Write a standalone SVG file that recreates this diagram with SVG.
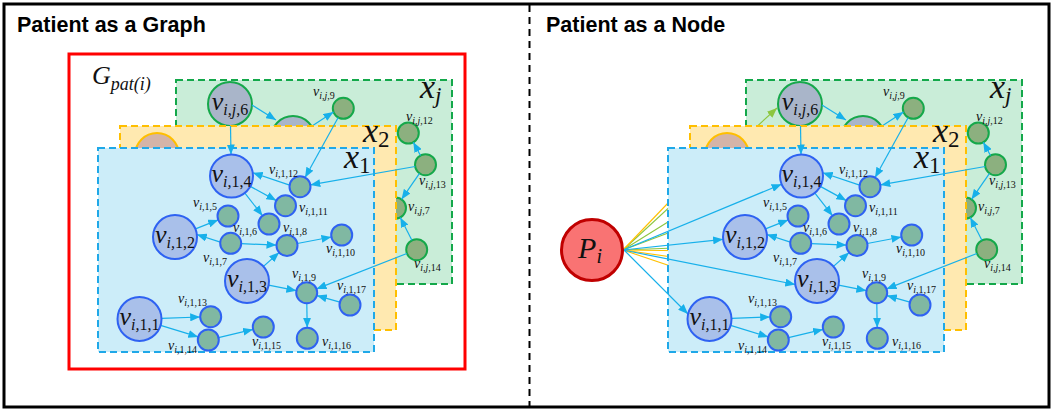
<svg xmlns="http://www.w3.org/2000/svg" width="1052" height="411" viewBox="0 0 1052 411">
  <style>
    .title { font-family: "Liberation Sans", Arial, sans-serif; font-weight: bold; font-size: 21.5px; fill: #000; }
    .m { font-family: "Liberation Serif", "DejaVu Serif", serif; fill: #111; font-style: italic; }
    .sm { font-size: 14px; }
    .sm tspan { font-size: 10px; }
    .bg { font-size: 26px; text-anchor: middle; }
    .bg tspan { font-size: 16px; }
    .lx { font-size: 34px; }
    .lx tspan { font-size: 23px; }
    .gp { font-size: 26px; }
    .gp tspan { font-size: 18px; }
    .pi { font-size: 30px; text-anchor: middle; }
    .pi tspan { font-size: 20px; }
    tspan.r { font-style: normal; }
    .lay-j { fill: #c9edd8; stroke: #13a84a; stroke-width: 2; stroke-dasharray: 7 4; }
    .lay-2 { fill: #ffe9b0; stroke: #ffbf00; stroke-width: 2; stroke-dasharray: 7 4; }
    .lay-1 { fill: #ccedf9; stroke: #1fa8e8; stroke-width: 2; stroke-dasharray: 7 4; }
    .nb { fill: #a9c0ea; stroke: #2e62f2; stroke-width: 2; }
    .ns { fill: #80b8a2; stroke: #2e62f2; stroke-width: 2; }
    .gb { fill: #a9b5c9; stroke: #15a84a; stroke-width: 2; }
    .gs { fill: #8cb07f; stroke: #15a84a; stroke-width: 2; }
    .yb { fill: #d4b4a8; stroke: #ffbf00; stroke-width: 2; }
    .e { stroke: #17b0ea; stroke-width: 1.2; fill: none; marker-end: url(#ah); }
    .fy { stroke: #ffc000; stroke-width: 1.1; fill: none; }
    .fg { stroke: #8cc63f; stroke-width: 1.1; fill: none; }
    .fga { stroke: #8cc63f; stroke-width: 1.1; fill: none; marker-end: url(#ahg); }
  </style>
  <defs>
    <marker id="ah" viewBox="0 0 10 8" refX="10" refY="4" markerWidth="10" markerHeight="8" markerUnits="userSpaceOnUse" orient="auto">
      <path d="M0,0 L10,4 L0,8 z" fill="#17b0ea"/>
    </marker>
    <marker id="ahg" viewBox="0 0 10 8" refX="10" refY="4" markerWidth="10" markerHeight="8" markerUnits="userSpaceOnUse" orient="auto">
      <path d="M0,0 L10,4 L0,8 z" fill="#8cc63f"/>
    </marker>
  </defs>

  <!-- frame and divider -->
  <rect x="4" y="4" width="1045" height="403" fill="#fff" stroke="#000" stroke-width="3"/>
  <line x1="529.5" y1="5" x2="529.5" y2="406" stroke="#000" stroke-width="2" stroke-dasharray="7 5"/>
  <text class="title" x="17" y="32">Patient as a Graph</text>
  <text class="title" x="546" y="32">Patient as a Node</text>

  <!-- ===================== left: patient as a graph ===================== -->
  <rect id="gpat-frame" x="69" y="54" width="396" height="315" fill="none" stroke="#ff0000" stroke-width="3"/>
  <text class="m gp" x="92" y="84">G<tspan dy="6">pat(i)</tspan></text>

  <!-- layer x_j -->
  <rect class="lay-j" x="176" y="80" width="276" height="204"/>
  <g id="L-vj6"><circle class="gb" cx="230" cy="104" r="22"/><text class="m bg" x="230" y="110">v<tspan dy="5">i,j,</tspan><tspan class="r">6</tspan></text></g>
  <g id="L-vjh"><circle class="gb" cx="293" cy="138" r="22"/></g>
  <g id="L-vj9"><circle class="gs" cx="343.3" cy="108.3" r="10.5"/><text class="m sm" x="313" y="96">v<tspan dy="3">i,j,</tspan><tspan class="r">9</tspan></text></g>
  <g id="L-vj12"><circle class="gs" cx="408.3" cy="133" r="10.5"/><text class="m sm" x="406" y="121">v<tspan dy="3">i,j,</tspan><tspan class="r">12</tspan></text></g>
  <g id="L-vj13"><circle class="gs" cx="425.5" cy="164.7" r="10.5"/><text class="m sm" x="419" y="185">v<tspan dy="3">i,j,</tspan><tspan class="r">13</tspan></text></g>
  <g id="L-vj7"><circle class="gs" cx="395.5" cy="208" r="10.5"/><text class="m sm" x="408" y="211">v<tspan dy="3">i,j,</tspan><tspan class="r">7</tspan></text></g>
  <g id="L-vj14"><circle class="gs" cx="416.7" cy="249.7" r="10.5"/><text class="m sm" x="414" y="268">v<tspan dy="3">i,j,</tspan><tspan class="r">14</tspan></text></g>
  <g id="L-edges-j">
    <line class="e" x1="252" y1="105" x2="276" y2="120"/>
    <line class="e" x1="312" y1="126" x2="333.5" y2="112"/>
    <line class="e" x1="420.5" y1="155.5" x2="413.3" y2="142.2"/>
    <line class="e" x1="419.5" y1="173.3" x2="401.5" y2="199.4"/>
    <line class="e" x1="411.9" y1="240.3" x2="400.3" y2="217.4"/>
  </g>
  <text class="m lx" x="420" y="98">x<tspan dy="5">j</tspan></text>

  <!-- layer x_2 -->
  <rect class="lay-2" x="120" y="126" width="276" height="204"/>
  <g id="L-v2a"><circle class="yb" cx="157" cy="155" r="22"/></g>
  <text class="m lx" x="363" y="142">x<tspan class="r" dy="5">2</tspan></text>

  <!-- layer x_1 -->
  <rect class="lay-1" x="98" y="148" width="276" height="204"/>
  <text class="m lx" x="344" y="168">x<tspan class="r" dy="5">1</tspan></text>
  <g id="L-edges-1">
    <line class="e" x1="230.5" y1="126" x2="231" y2="154.5"/>
    <line class="e" x1="338.2" y1="117.5" x2="305.1" y2="177.5"/>
    <line class="e" x1="415.2" y1="166.5" x2="310.3" y2="184.9"/>
    <line class="e" x1="406.9" y1="253.5" x2="316.5" y2="288.9"/>
    <line class="e" x1="289.6" y1="185.1" x2="252.7" y2="172.7"/>
    <line class="e" x1="250.3" y1="186.4" x2="276.3" y2="200.6"/>
    <line class="e" x1="244.7" y1="192.9" x2="262.5" y2="215.7"/>
    <line class="e" x1="195.5" y1="228.9" x2="218.2" y2="219.9"/>
    <line class="e" x1="220.3" y1="242.1" x2="196.8" y2="234.5"/>
    <line class="e" x1="241.2" y1="243.7" x2="276.5" y2="245.1"/>
    <line class="e" x1="297.3" y1="243.5" x2="331.4" y2="237"/>
    <line class="e" x1="263.5" y1="266.4" x2="279.1" y2="252.5"/>
    <line class="e" x1="268.6" y1="285.2" x2="296.4" y2="290.7"/>
    <line class="e" x1="339.9" y1="302.1" x2="316.8" y2="295.6"/>
    <line class="e" x1="306.8" y1="303.2" x2="307.2" y2="327.8"/>
    <line class="e" x1="161.5" y1="318.3" x2="200.2" y2="317"/>
    <line class="e" x1="160.6" y1="325.4" x2="198.3" y2="336.9"/>
    <line class="e" x1="218.5" y1="337.6" x2="253.1" y2="329.4"/>
  </g>
  <g id="L-v14"><circle class="nb" cx="231.5" cy="176" r="21.5"/><text class="m bg" x="231.5" y="182">v<tspan dy="5">i,</tspan><tspan class="r">1,4</tspan></text></g>
  <g id="L-v12"><circle class="nb" cx="175" cy="237" r="22"/><text class="m bg" x="175" y="243">v<tspan dy="5">i,</tspan><tspan class="r">1,2</tspan></text></g>
  <g id="L-v13"><circle class="nb" cx="247" cy="281" r="22"/><text class="m bg" x="247" y="287">v<tspan dy="5">i,</tspan><tspan class="r">1,3</tspan></text></g>
  <g id="L-v11"><circle class="nb" cx="139.5" cy="319" r="22"/><text class="m bg" x="139.5" y="325">v<tspan dy="5">i,</tspan><tspan class="r">1,1</tspan></text></g>
  <g id="L-v15"><circle class="ns" cx="228" cy="216" r="10.5"/><text class="m sm" x="193" y="207">v<tspan dy="3">i,</tspan><tspan class="r">1,5</tspan></text></g>
  <g id="L-v16"><circle class="ns" cx="269" cy="224" r="10.5"/><text class="m sm" x="233" y="232">v<tspan dy="3">i,</tspan><tspan class="r">1,6</tspan></text></g>
  <g id="L-v17"><circle class="ns" cx="230.7" cy="243.3" r="10.5"/><text class="m sm" x="203" y="262">v<tspan dy="3">i,</tspan><tspan class="r">1,7</tspan></text></g>
  <g id="L-v18"><circle class="ns" cx="287" cy="245.5" r="10.5"/><text class="m sm" x="283" y="232">v<tspan dy="3">i,</tspan><tspan class="r">1,8</tspan></text></g>
  <g id="L-v19"><circle class="ns" cx="306.7" cy="292.7" r="10.5"/><text class="m sm" x="292" y="278">v<tspan dy="3">i,</tspan><tspan class="r">1,9</tspan></text></g>
  <g id="L-v110"><circle class="ns" cx="341.7" cy="235" r="10.5"/><text class="m sm" x="326" y="253">v<tspan dy="3">i,</tspan><tspan class="r">1,10</tspan></text></g>
  <g id="L-v111"><circle class="ns" cx="285.5" cy="205.7" r="10.5"/><text class="m sm" x="299" y="212">v<tspan dy="3">i,</tspan><tspan class="r">1,11</tspan></text></g>
  <g id="L-v112"><circle class="ns" cx="300" cy="186.7" r="10.5"/><text class="m sm" x="269" y="174">v<tspan dy="3">i,</tspan><tspan class="r">1,12</tspan></text></g>
  <g id="L-v113"><circle class="ns" cx="210.7" cy="316.7" r="10.5"/><text class="m sm" x="178" y="303">v<tspan dy="3">i,</tspan><tspan class="r">1,13</tspan></text></g>
  <g id="L-v114"><circle class="ns" cx="208.3" cy="340" r="10.5"/><text class="m sm" x="168" y="350">v<tspan dy="3">i,</tspan><tspan class="r">1,14</tspan></text></g>
  <g id="L-v115"><circle class="ns" cx="263.3" cy="327" r="10.5"/><text class="m sm" x="252" y="346">v<tspan dy="3">i,</tspan><tspan class="r">1,15</tspan></text></g>
  <g id="L-v116"><circle class="ns" cx="307.3" cy="338.3" r="10.5"/><text class="m sm" x="322" y="346">v<tspan dy="3">i,</tspan><tspan class="r">1,16</tspan></text></g>
  <g id="L-v117"><circle class="ns" cx="350" cy="305" r="10.5"/><text class="m sm" x="337" y="290">v<tspan dy="3">i,</tspan><tspan class="r">1,17</tspan></text></g>

  <!-- ===================== right: patient as a node ===================== -->
  <!-- layer x_j -->
  <rect class="lay-j" x="746" y="80" width="276" height="204"/>
  <g id="R-vj6"><circle class="gb" cx="800" cy="104" r="22"/><text class="m bg" x="800" y="110">v<tspan dy="5">i,j,</tspan><tspan class="r">6</tspan></text></g>
  <g id="R-vjh"><circle class="gb" cx="863" cy="138" r="22"/></g>
  <g id="R-vj9"><circle class="gs" cx="913.3" cy="108.3" r="10.5"/><text class="m sm" x="883" y="96">v<tspan dy="3">i,j,</tspan><tspan class="r">9</tspan></text></g>
  <g id="R-vj12"><circle class="gs" cx="978.3" cy="133" r="10.5"/><text class="m sm" x="976" y="121">v<tspan dy="3">i,j,</tspan><tspan class="r">12</tspan></text></g>
  <g id="R-vj13"><circle class="gs" cx="995.5" cy="164.7" r="10.5"/><text class="m sm" x="989" y="185">v<tspan dy="3">i,j,</tspan><tspan class="r">13</tspan></text></g>
  <g id="R-vj7"><circle class="gs" cx="965.5" cy="208" r="10.5"/><text class="m sm" x="978" y="211">v<tspan dy="3">i,j,</tspan><tspan class="r">7</tspan></text></g>
  <g id="R-vj14"><circle class="gs" cx="986.7" cy="249.7" r="10.5"/><text class="m sm" x="984" y="268">v<tspan dy="3">i,j,</tspan><tspan class="r">14</tspan></text></g>
  <g id="R-edges-j">
    <line class="e" x1="822" y1="105" x2="846" y2="120"/>
    <line class="e" x1="882" y1="126" x2="903.5" y2="112"/>
    <line class="e" x1="990.5" y1="155.5" x2="983.3" y2="142.2"/>
    <line class="e" x1="989.5" y1="173.3" x2="971.5" y2="199.4"/>
    <line class="e" x1="981.9" y1="240.3" x2="970.3" y2="217.4"/>
  </g>
  <text class="m lx" x="990" y="98">x<tspan dy="5">j</tspan></text>
  <!-- patient links into layer x_j -->
  <g id="R-links-j">
    <line class="fga" x1="623" y1="250" x2="777" y2="108"/>
    <line class="fg" x1="623" y1="250" x2="700" y2="202"/>
    <line class="fg" x1="623" y1="250" x2="700" y2="221"/>
    <line class="fg" x1="623" y1="250" x2="700" y2="247"/>
  </g>

  <!-- layer x_2 -->
  <rect class="lay-2" x="690" y="126" width="276" height="204"/>
  <g id="R-v2a"><circle class="yb" cx="727" cy="155" r="22"/></g>
  <text class="m lx" x="933" y="142">x<tspan class="r" dy="5">2</tspan></text>
  <!-- patient links into layer x_2 -->
  <g id="R-links-2">
    <line class="fy" x1="623" y1="250" x2="715" y2="154"/>
    <line class="fy" x1="623" y1="250" x2="700" y2="251"/>
    <line class="fy" x1="623" y1="250" x2="700" y2="261"/>
    <line class="fy" x1="623" y1="250" x2="700" y2="276"/>
  </g>

  <!-- layer x_1 -->
  <rect class="lay-1" x="668" y="148" width="276" height="204"/>
  <text class="m lx" x="914" y="168">x<tspan class="r" dy="5">1</tspan></text>
  <g id="R-edges-1">
    <line class="e" x1="800.5" y1="126" x2="801" y2="154.5"/>
    <line class="e" x1="908.2" y1="117.5" x2="875.1" y2="177.5"/>
    <line class="e" x1="985.2" y1="166.5" x2="880.3" y2="184.9"/>
    <line class="e" x1="976.9" y1="253.5" x2="886.5" y2="288.9"/>
    <line class="e" x1="859.6" y1="185.1" x2="822.7" y2="172.7"/>
    <line class="e" x1="820.3" y1="186.4" x2="846.3" y2="200.6"/>
    <line class="e" x1="814.7" y1="192.9" x2="832.5" y2="215.7"/>
    <line class="e" x1="765.5" y1="228.9" x2="788.2" y2="219.9"/>
    <line class="e" x1="790.3" y1="242.1" x2="766.8" y2="234.5"/>
    <line class="e" x1="811.2" y1="243.7" x2="846.5" y2="245.1"/>
    <line class="e" x1="867.3" y1="243.5" x2="901.4" y2="237"/>
    <line class="e" x1="833.5" y1="266.4" x2="849.1" y2="252.5"/>
    <line class="e" x1="838.6" y1="285.2" x2="866.4" y2="290.7"/>
    <line class="e" x1="909.9" y1="302.1" x2="886.8" y2="295.6"/>
    <line class="e" x1="876.8" y1="303.2" x2="877.2" y2="327.8"/>
    <line class="e" x1="731.5" y1="318.3" x2="770.2" y2="317"/>
    <line class="e" x1="730.6" y1="325.4" x2="768.3" y2="336.9"/>
    <line class="e" x1="788.5" y1="337.6" x2="823.1" y2="329.4"/>
    <!-- patient links into layer x_1 -->
    <line class="e" x1="623" y1="250" x2="781.6" y2="184.2"/>
    <line class="e" x1="623" y1="250" x2="723.1" y2="239.3"/>
    <line class="e" x1="623" y1="250" x2="795.3" y2="284.5"/>
    <line class="e" x1="623" y1="249" x2="688" y2="314"/>
  </g>
  <g id="R-v14"><circle class="nb" cx="801.5" cy="176" r="21.5"/><text class="m bg" x="801.5" y="182">v<tspan dy="5">i,</tspan><tspan class="r">1,4</tspan></text></g>
  <g id="R-v12"><circle class="nb" cx="745" cy="237" r="22"/><text class="m bg" x="745" y="243">v<tspan dy="5">i,</tspan><tspan class="r">1,2</tspan></text></g>
  <g id="R-v13"><circle class="nb" cx="817" cy="281" r="22"/><text class="m bg" x="817" y="287">v<tspan dy="5">i,</tspan><tspan class="r">1,3</tspan></text></g>
  <g id="R-v11"><circle class="nb" cx="709.5" cy="319" r="22"/><text class="m bg" x="709.5" y="325">v<tspan dy="5">i,</tspan><tspan class="r">1,1</tspan></text></g>
  <g id="R-v15"><circle class="ns" cx="798" cy="216" r="10.5"/><text class="m sm" x="763" y="207">v<tspan dy="3">i,</tspan><tspan class="r">1,5</tspan></text></g>
  <g id="R-v16"><circle class="ns" cx="839" cy="224" r="10.5"/><text class="m sm" x="803" y="232">v<tspan dy="3">i,</tspan><tspan class="r">1,6</tspan></text></g>
  <g id="R-v17"><circle class="ns" cx="800.7" cy="243.3" r="10.5"/><text class="m sm" x="773" y="262">v<tspan dy="3">i,</tspan><tspan class="r">1,7</tspan></text></g>
  <g id="R-v18"><circle class="ns" cx="857" cy="245.5" r="10.5"/><text class="m sm" x="853" y="232">v<tspan dy="3">i,</tspan><tspan class="r">1,8</tspan></text></g>
  <g id="R-v19"><circle class="ns" cx="876.7" cy="292.7" r="10.5"/><text class="m sm" x="862" y="278">v<tspan dy="3">i,</tspan><tspan class="r">1,9</tspan></text></g>
  <g id="R-v110"><circle class="ns" cx="911.7" cy="235" r="10.5"/><text class="m sm" x="896" y="253">v<tspan dy="3">i,</tspan><tspan class="r">1,10</tspan></text></g>
  <g id="R-v111"><circle class="ns" cx="855.5" cy="205.7" r="10.5"/><text class="m sm" x="869" y="212">v<tspan dy="3">i,</tspan><tspan class="r">1,11</tspan></text></g>
  <g id="R-v112"><circle class="ns" cx="870" cy="186.7" r="10.5"/><text class="m sm" x="839" y="174">v<tspan dy="3">i,</tspan><tspan class="r">1,12</tspan></text></g>
  <g id="R-v113"><circle class="ns" cx="780.7" cy="316.7" r="10.5"/><text class="m sm" x="748" y="303">v<tspan dy="3">i,</tspan><tspan class="r">1,13</tspan></text></g>
  <g id="R-v114"><circle class="ns" cx="778.3" cy="340" r="10.5"/><text class="m sm" x="738" y="350">v<tspan dy="3">i,</tspan><tspan class="r">1,14</tspan></text></g>
  <g id="R-v115"><circle class="ns" cx="833.3" cy="327" r="10.5"/><text class="m sm" x="822" y="346">v<tspan dy="3">i,</tspan><tspan class="r">1,15</tspan></text></g>
  <g id="R-v116"><circle class="ns" cx="877.3" cy="338.3" r="10.5"/><text class="m sm" x="892" y="346">v<tspan dy="3">i,</tspan><tspan class="r">1,16</tspan></text></g>
  <g id="R-v117"><circle class="ns" cx="920" cy="305" r="10.5"/><text class="m sm" x="907" y="290">v<tspan dy="3">i,</tspan><tspan class="r">1,17</tspan></text></g>

  <!-- the patient node -->
  <g id="R-patient">
    <circle cx="592" cy="250" r="30.5" fill="#f97373" stroke="#c00000" stroke-width="3"/>
    <text class="m pi" x="590" y="258">P<tspan dy="5">i</tspan></text>
  </g>
</svg>
